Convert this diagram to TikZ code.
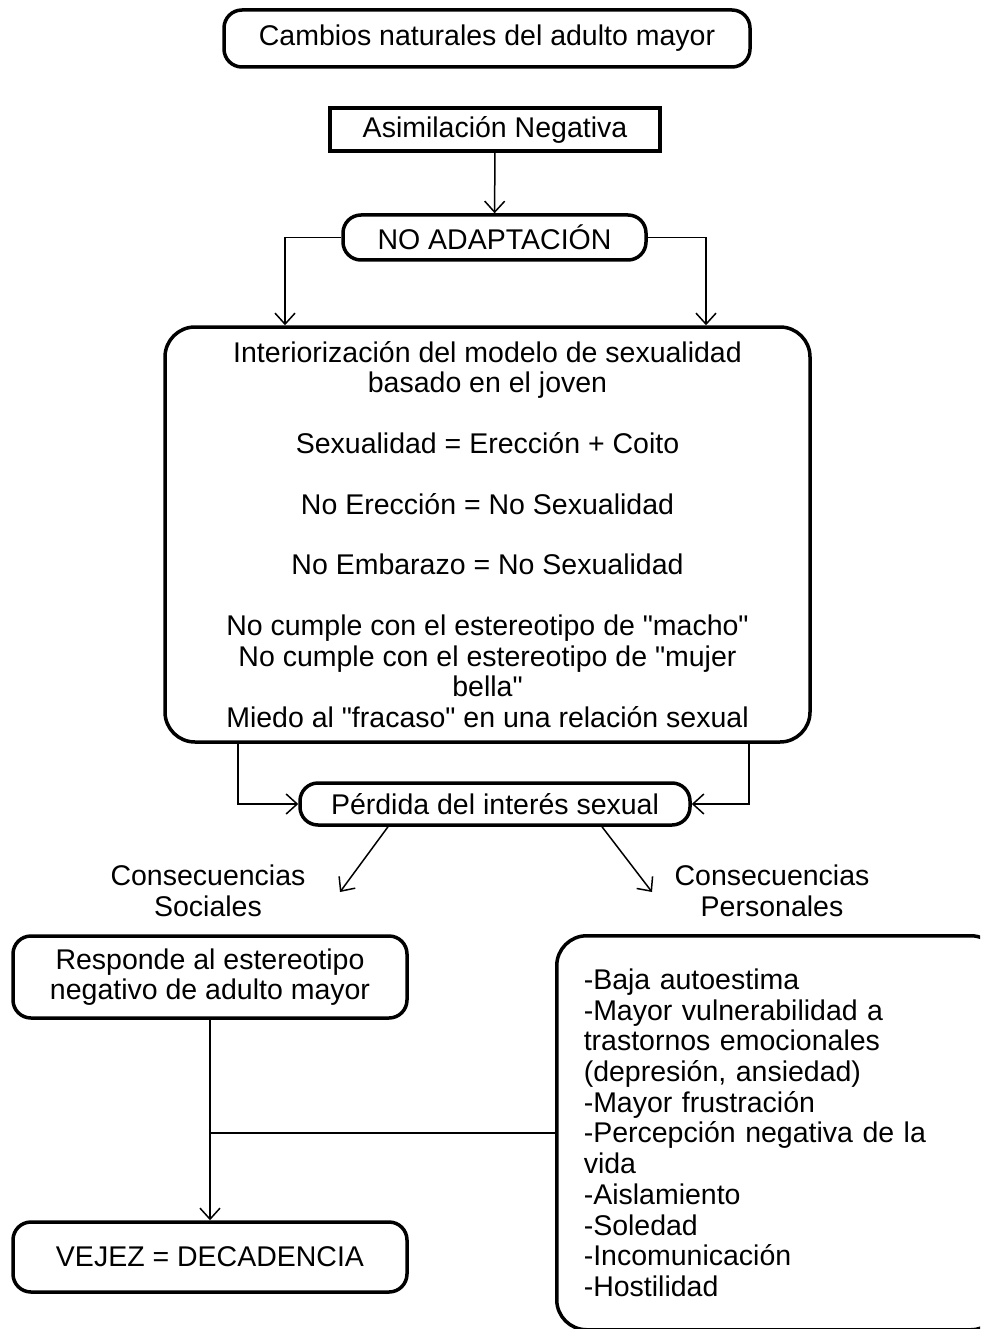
\documentclass[tikz,border=0pt]{standalone}
\usepackage{fontspec}
\setmainfont{Liberation Sans}[Ligatures=TeXOff]
\usetikzlibrary{arrows.meta}

\begin{document}
\begin{tikzpicture}[x=1pt,y=-1pt,
  font=\fontsize{28.5}{30.7}\selectfont,
  rbox/.style={draw, rounded corners=18pt, line width=3.5pt, inner sep=0pt},
  arr/.style={-{Straight Barb[length=11pt,width=20pt]}, line width=1.5pt}]
\useasboundingbox (0,0) rectangle (980,1329);
\clip (0,0) rectangle (980,1329);

% upper chain
\node[rbox, minimum width=526pt, minimum height=57pt] (cambios) at (487,38.5) {Cambios naturales del adulto mayor};
\node[draw, rectangle, line width=4pt, minimum width=330pt, minimum height=43pt, inner sep=0pt] (asim) at (495,129.5) {Asimilación Negativa};
\node[rbox, minimum width=303pt, minimum height=45pt] (noad) at (494.5,237.5) {NO ADAPTACIÓN};
\node[rbox, rounded corners=30pt, minimum width=645pt, minimum height=415pt, align=center] (inter) at (487.5,534.5)
  {Interiorización del modelo de sexualidad\\
   basado en el joven\\[30pt]
   Sexualidad = Erección + Coito\\[30pt]
   No Erección = No Sexualidad\\[30pt]
   No Embarazo = No Sexualidad\\[30pt]
   No cumple con el estereotipo de "macho"\\
   No cumple con el estereotipo de "mujer\\
   bella"\\
   Miedo al "fracaso" en una relación sexual};
\node[rbox, minimum width=390pt, minimum height=42pt] (perd) at (495,804) {Pérdida del interés sexual};

% consequences
\node[align=center] (socl) at (208,891) {Consecuencias\\Sociales};
\node[align=center] (perl) at (772,891) {Consecuencias\\Personales};
\coordinate (socend) at (340,892);
\coordinate (perend) at (652,892);

\node[rbox, minimum width=394pt, minimum height=82pt, align=center] (resp) at (210,977) {Responde al estereotipo\\negativo de adulto mayor};
\node[rbox, minimum width=394pt, minimum height=70pt] (vejez) at (210,1257) {VEJEZ = DECADENCIA};
\node[rbox, rounded corners=30pt, anchor=north west, minimum width=444pt, minimum height=394pt,
  text width=390pt, inner xsep=27pt, align=left] (pers) at (555,934)
  {-Baja autoestima\\
   -Mayor vulnerabilidad a\\
   trastornos emocionales\\
   (depresión, ansiedad)\\
   -Mayor frustración\\
   -Percepción negativa de la\\
   vida\\
   -Aislamiento\\
   -Soledad\\
   -Incomunicación\\
   -Hostilidad};

% connectors
\draw[arr] (asim) -- (noad);
\draw[arr] (noad.west) -| ([xshift=-202.5pt]inter.north);
\draw[arr] (noad.east) -| ([xshift=218.5pt]inter.north);
\draw[arr] ([xshift=-249.5pt]inter.south) |- (perd.west);
\draw[arr] ([xshift=261.5pt]inter.south) |- (perd.east);
\draw[arr] ([xshift=-107pt]perd.south) -- (socend);
\draw[arr] ([xshift=107pt]perd.south) -- (perend);
\draw[arr] (resp) -- (vejez);
\coordinate (junc) at (resp.south |- pers.west);
\draw[line width=1.5pt] (junc) -- (pers.west);
\end{tikzpicture}
\end{document}
